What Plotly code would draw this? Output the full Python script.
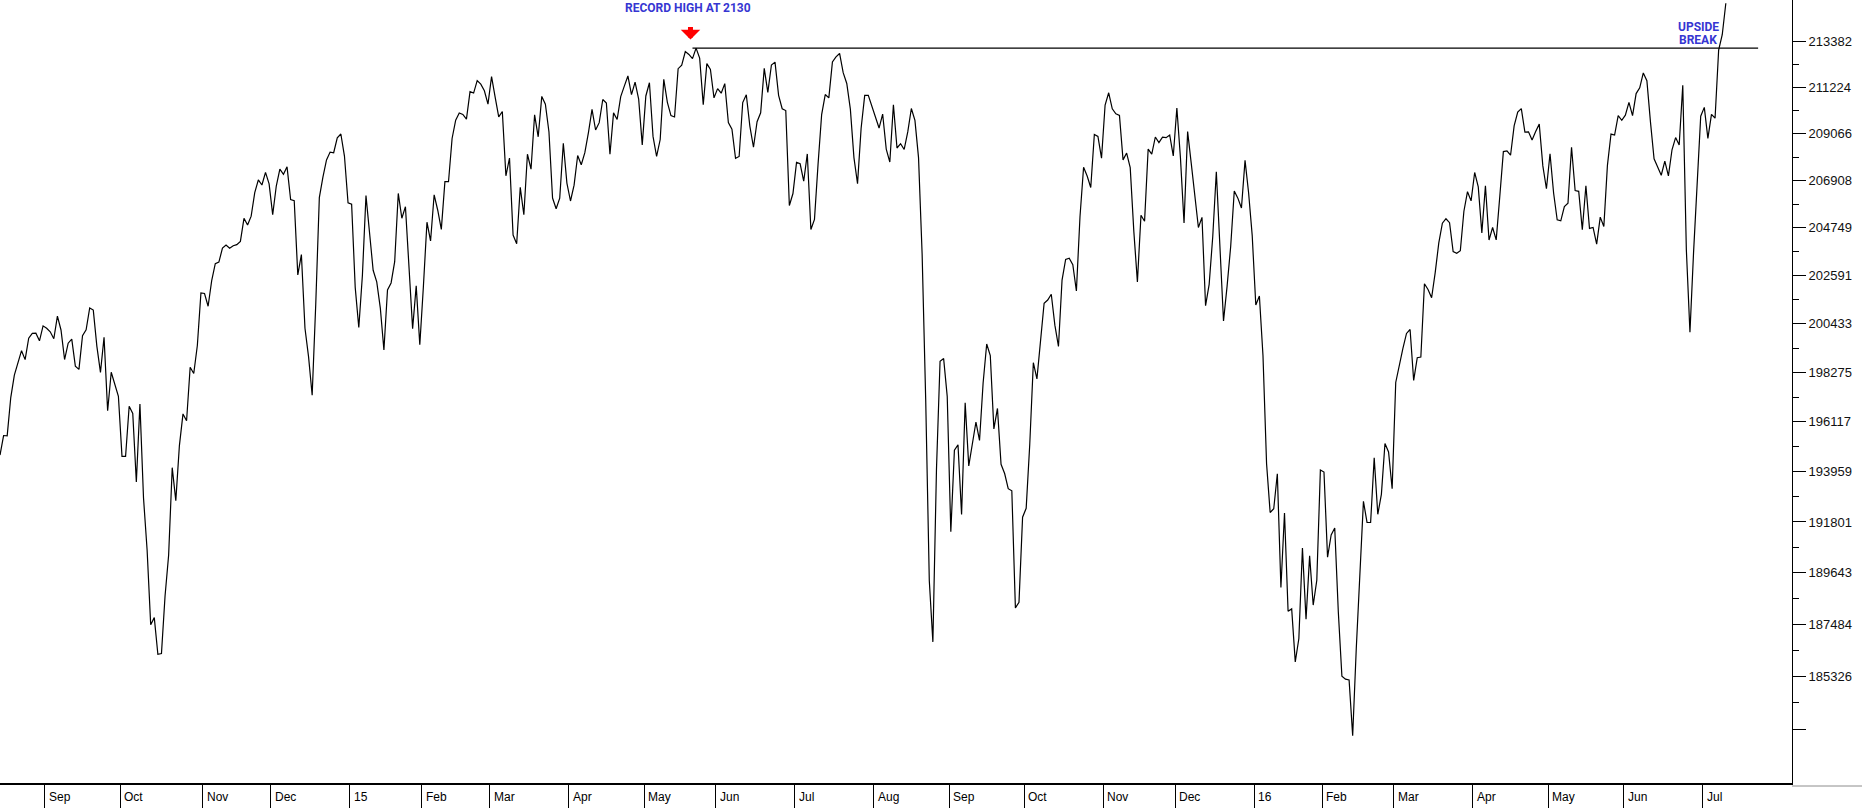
import math
import plotly.graph_objects as go

# S&P 500 daily closes, 13 Aug 2014 - 12 Jul 2016 (one list per month)
aug14 = [1946.72, 1955.18, 1955.06, 1971.74, 1981.60, 1986.51, 1992.37, 1988.40, 1997.92, 2000.02,
         2000.12, 1996.74, 2003.37]
sep14 = [2002.28, 2000.72, 1997.65, 2007.71, 2001.54, 1988.44, 1995.69, 1997.45, 1985.54, 1984.13,
         1998.98, 2001.57, 2011.36, 2010.40, 1994.29, 1982.77, 1998.30, 1965.99, 1982.85, 1977.80, 1972.29]
oct14 = [1946.16, 1946.17, 1967.90, 1964.82, 1935.10, 1968.89, 1928.21, 1906.13, 1874.74, 1877.70,
         1862.49, 1862.76, 1886.76, 1904.01, 1941.28, 1927.11, 1950.82, 1964.58, 1961.63, 1985.05,
         1982.30, 1994.65, 2018.05]
nov14 = [2017.81, 2012.10, 2023.57, 2031.21, 2031.92, 2038.26, 2039.68, 2038.25, 2039.33, 2039.82,
         2041.32, 2051.80, 2048.72, 2052.75, 2063.50, 2069.41, 2067.03, 2072.83, 2067.56]
dec14 = [2053.44, 2066.55, 2074.33, 2071.92, 2075.37, 2060.31, 2059.82, 2026.14, 2035.33, 2002.33,
         1989.63, 1972.74, 2012.89, 2061.23, 2070.65, 2078.54, 2082.17, 2081.88, 2088.77, 2090.57,
         2080.35, 2058.90]
jan15 = [2058.20, 2020.58, 2002.61, 2025.90, 2062.14, 2044.81, 2028.26, 2023.03, 2011.27, 1992.67,
         2019.42, 2022.55, 2032.12, 2063.15, 2051.82, 2057.09, 2029.55, 2002.16, 2021.25, 1994.99]
feb15 = [2020.85, 2050.03, 2041.51, 2062.52, 2055.47, 2046.74, 2068.59, 2068.53, 2088.48, 2096.99,
         2100.34, 2099.68, 2097.45, 2110.30, 2109.66, 2115.48, 2113.86, 2110.74, 2104.50]
mar15 = [2117.39, 2107.78, 2098.53, 2101.04, 2071.26, 2079.43, 2044.16, 2040.24, 2065.95, 2053.40,
         2081.19, 2074.28, 2099.50, 2089.27, 2108.10, 2104.42, 2091.50, 2061.05, 2056.15, 2061.02,
         2086.24, 2067.89]
apr15 = [2059.69, 2066.96, 2080.62, 2076.33, 2081.90, 2091.18, 2102.06, 2092.43, 2095.84, 2106.63,
         2104.99, 2081.18, 2100.40, 2097.29, 2107.96, 2112.93, 2117.69, 2108.92, 2114.76, 2106.85, 2085.51]
may15 = [2108.29, 2114.49, 2089.46, 2080.15, 2088.00, 2116.10, 2105.33, 2099.12, 2098.48, 2121.10,
         2122.73, 2129.20, 2127.83, 2125.85, 2130.82, 2126.06, 2104.20, 2123.48, 2120.79, 2107.39]
jun15 = [2111.73, 2109.60, 2114.07, 2095.84, 2092.83, 2079.28, 2080.15, 2105.20, 2108.86, 2094.11,
         2084.43, 2096.29, 2100.44, 2121.24, 2109.99, 2122.85, 2124.20, 2108.58, 2102.31, 2101.49,
         2057.64, 2063.11]
jul15 = [2077.42, 2076.78, 2068.76, 2081.34, 2046.68, 2051.31, 2076.62, 2099.60, 2108.95, 2107.40,
         2124.29, 2126.64, 2128.28, 2119.21, 2114.15, 2102.15, 2079.65, 2067.64, 2093.25, 2108.57,
         2108.63, 2103.84]
aug15 = [2098.04, 2093.32, 2099.84, 2083.56, 2077.57, 2104.18, 2084.07, 2086.05, 2083.39, 2091.54,
         2102.44, 2096.92, 2079.61, 2035.73, 1970.89, 1893.21, 1867.61, 1940.51, 1987.66, 1988.87, 1972.18]
sep15 = [1913.85, 1948.86, 1951.13, 1921.22, 1969.41, 1942.04, 1952.29, 1961.05, 1953.03, 1978.09,
         1995.31, 1990.20, 1958.03, 1966.97, 1942.74, 1938.76, 1932.24, 1931.34, 1881.77, 1884.09, 1920.03]
oct15 = [1923.82, 1951.36, 1987.05, 1979.92, 1995.83, 2013.43, 2014.89, 2017.46, 2003.69, 1994.24,
         2023.86, 2033.11, 2033.66, 2030.77, 2018.94, 2052.51, 2075.15, 2071.18, 2065.89, 2090.35,
         2089.41, 2079.36]
nov15 = [2104.05, 2109.79, 2102.31, 2099.93, 2099.20, 2078.58, 2081.72, 2075.00, 2045.97, 2023.04,
         2053.19, 2050.44, 2083.58, 2081.24, 2089.17, 2086.59, 2089.14, 2088.87, 2090.11, 2080.41]
dec15 = [2102.63, 2079.51, 2049.62, 2091.69, 2077.07, 2063.59, 2047.62, 2052.23, 2012.37, 2021.94,
         2043.41, 2073.07, 2041.89, 2005.55, 2021.15, 2038.97, 2064.29, 2060.99, 2056.50, 2078.36,
         2063.36, 2043.94]
jan16 = [2012.66, 2016.71, 1990.26, 1943.09, 1922.03, 1923.67, 1938.68, 1890.28, 1921.84, 1880.33,
         1881.33, 1859.33, 1868.99, 1906.90, 1877.08, 1903.63, 1882.95, 1893.36, 1940.24]
feb16 = [1939.38, 1903.03, 1912.53, 1915.45, 1880.05, 1853.44, 1852.21, 1851.86, 1829.08, 1864.78,
         1895.58, 1926.82, 1917.83, 1917.78, 1945.50, 1921.27, 1929.80, 1951.70, 1948.05, 1932.23]
mar16 = [1978.35, 1986.45, 1993.40, 1999.99, 2001.76, 1979.26, 1989.26, 1989.57, 2022.19, 2019.64,
         2015.93, 2027.22, 2040.59, 2049.58, 2051.60, 2049.80, 2036.71, 2035.94, 2037.05, 2055.01,
         2063.95, 2059.74]
apr16 = [2072.78, 2066.13, 2045.17, 2066.66, 2041.91, 2047.60, 2041.99, 2061.72, 2082.42, 2082.78,
         2080.73, 2094.34, 2100.80, 2102.40, 2091.48, 2091.58, 2087.79, 2091.70, 2095.15, 2075.81, 2065.30]
may16 = [2081.43, 2063.37, 2051.12, 2050.63, 2057.14, 2058.69, 2084.39, 2064.46, 2064.11, 2046.61,
         2066.66, 2047.21, 2047.63, 2040.04, 2052.32, 2048.04, 2076.06, 2090.54, 2090.10, 2099.06, 2096.95]
jun16 = [2099.33, 2105.26, 2099.13, 2109.41, 2112.13, 2119.12, 2115.48, 2096.07, 2079.06, 2075.32,
         2071.50, 2077.99, 2071.22, 2083.25, 2088.90, 2085.45, 2113.32, 2037.41, 2000.54, 2036.09,
         2070.77, 2098.86]
jul16 = [2102.95, 2088.55, 2099.73, 2097.90, 2129.90, 2137.16, 2152.14]

# month labels shown on the time axis (first, partial month has no label)
month_labels = ["", "Sep", "Oct", "Nov", "Dec", "15", "Feb", "Mar", "Apr", "May", "Jun", "Jul", "Aug",
                "Sep", "Oct", "Nov", "Dec", "16", "Feb", "Mar", "Apr", "May", "Jun", "Jul"]
month_series = [aug14, sep14, oct14, nov14, dec14, jan15, feb15, mar15, apr15, may15, jun15, jul15,
                aug15, sep15, oct15, nov15, dec15, jan16, feb16, mar16, apr16, may16, jun16, jul16]

# price-axis ticks (log scale) and their labels
y_tickvals = [2133.82, 2112.24, 2090.66, 2069.08, 2047.49, 2025.91, 2004.33, 1982.75, 1961.17,
              1939.59, 1918.01, 1896.43, 1874.84, 1853.26, 1831.68]
y_ticktext = ["213382", "211224", "209066", "206908", "204749", "202591", "200433", "198275",
              "196117", "193959", "191801", "189643", "187484", "185326", ""]

# annotations
record_high = 2130.82
record_session = 193          # session index of the May 2015 record close
record_line_end = 490         # session where the drawn resistance line stops
record_text = "RECORD HIGH AT 2130"
break_text = ["UPSIDE", "BREAK"]

# ---------------------------------------------------------------------------
closes = []
month_start = []
for s in month_series:
    month_start.append(len(closes))
    closes.extend(s)
sessions = list(range(len(closes)))

sep_vals = [month_start[i] - 0.5 for i in range(1, len(month_start))]
sep_labels = month_labels[1:]
minor_vals = [(a + b) / 2 for a, b in zip(y_tickvals[:-1], y_tickvals[1:])]

BLUE = "#3636d2"
NARROW = "Roboto, Liberation Sans, sans-serif"
AXFONT = "Liberation Sans, Arial, sans-serif"
note_font = dict(family=NARROW, size=12, color=BLUE, weight=700)

fig = go.Figure()
fig.add_trace(go.Scatter(x=sessions, y=closes, mode="lines",
                         line=dict(color="black", width=1.2), hoverinfo="skip"))
fig.add_trace(go.Scatter(x=[record_session, record_line_end], y=[record_high, record_high],
                         mode="lines", line=dict(color="black", width=1.4), hoverinfo="skip"))

annotations = []
for v, lab in zip(sep_vals, sep_labels):
    annotations.append(dict(x=v, y=0, xref="x", yref="paper", text=lab, showarrow=False,
                            xanchor="left", yanchor="middle", xshift=2, yshift=-14,
                            font=dict(family=AXFONT, size=12, color="black")))
annotations.append(dict(x=record_session, y=1, xref="x", yref="paper", text=record_text,
                        showarrow=False, xanchor="center", yanchor="top", xshift=-4, yshift=1,
                        font=note_font))
annotations.append(dict(x=record_session, y=1 - 39.5 / 783, xref="x", yref="paper", text="",
                        showarrow=True, ax=0, ay=-14, arrowhead=1, arrowsize=0.65, arrowwidth=5,
                        arrowcolor="#ff0000", xshift=-2))
annotations.append(dict(x=1698 / 1792, y=1 - 26.7 / 783, xref="paper", yref="paper",
                        text=break_text[0], showarrow=False, xanchor="center",
                        yanchor="middle", font=note_font))
annotations.append(dict(x=1698 / 1792, y=1 - 39.9 / 783, xref="paper", yref="paper",
                        text=break_text[1], showarrow=False, xanchor="center",
                        yanchor="middle", font=note_font))

fig.update_layout(
    width=1862, height=808,
    margin=dict(l=0, r=70, t=0, b=25, autoexpand=False),
    paper_bgcolor="white", plot_bgcolor="white",
    showlegend=False,
    annotations=annotations,
    shapes=[dict(type="line", xref="paper", yref="paper", x0=1, x1=1.04, y0=-3 / 783, y1=-3 / 783,
                 line=dict(color="#8c8c8c", width=1))],
    xaxis=dict(range=[0, 1792 / 3.588], showgrid=False, zeroline=False, showline=True,
               linecolor="black", linewidth=2, ticks="outside", ticklen=25, tickwidth=1,
               tickcolor="black", tickmode="array", tickvals=sep_vals, showticklabels=False,
               automargin=False, fixedrange=True),
    yaxis=dict(type="log", side="right", range=[math.log10(1810.0), math.log10(2153.7)],
               showgrid=False, zeroline=False, showline=True, linecolor="black", linewidth=1,
               ticks="outside", ticklen=13, tickwidth=1, tickcolor="black",
               tickmode="array", tickvals=y_tickvals, ticktext=y_ticktext,
               tickfont=dict(family=AXFONT, size=13, color="#111111"),
               minor=dict(tickmode="array", tickvals=minor_vals, ticks="outside", ticklen=6,
                          tickwidth=1, tickcolor="black", showgrid=False),
               automargin=False, fixedrange=True),
)

fig.write_html("out.html", include_plotlyjs=True, config={"displayModeBar": False},
               post_script="document.body.style.margin='0px';document.body.style.overflow='hidden';")
